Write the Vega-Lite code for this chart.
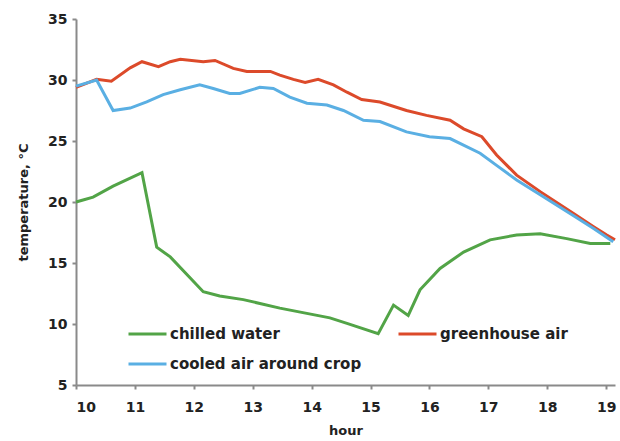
{
  "$schema": "https://vega.github.io/schema/vega-lite/v6.json",
  "width": 539,
  "height": 366,
  "autosize": {"type": "none"},
  "padding": {"left": 76, "top": 19, "right": 5, "bottom": 56},
  "background": "white",
  "data": {"values": [
    {"series": "greenhouse air", "hour": 10.0, "temp": 29.4},
    {"series": "greenhouse air", "hour": 10.35, "temp": 30.06},
    {"series": "greenhouse air", "hour": 10.6, "temp": 29.9},
    {"series": "greenhouse air", "hour": 10.92, "temp": 31.0},
    {"series": "greenhouse air", "hour": 11.12, "temp": 31.5},
    {"series": "greenhouse air", "hour": 11.4, "temp": 31.1},
    {"series": "greenhouse air", "hour": 11.6, "temp": 31.5},
    {"series": "greenhouse air", "hour": 11.77, "temp": 31.7},
    {"series": "greenhouse air", "hour": 12.16, "temp": 31.5},
    {"series": "greenhouse air", "hour": 12.36, "temp": 31.6},
    {"series": "greenhouse air", "hour": 12.67, "temp": 30.95},
    {"series": "greenhouse air", "hour": 12.9, "temp": 30.7},
    {"series": "greenhouse air", "hour": 13.3, "temp": 30.7},
    {"series": "greenhouse air", "hour": 13.46, "temp": 30.4},
    {"series": "greenhouse air", "hour": 13.69, "temp": 30.05},
    {"series": "greenhouse air", "hour": 13.89, "temp": 29.8},
    {"series": "greenhouse air", "hour": 14.11, "temp": 30.05},
    {"series": "greenhouse air", "hour": 14.37, "temp": 29.6},
    {"series": "greenhouse air", "hour": 14.6, "temp": 29.0},
    {"series": "greenhouse air", "hour": 14.85, "temp": 28.4},
    {"series": "greenhouse air", "hour": 15.16, "temp": 28.2},
    {"series": "greenhouse air", "hour": 15.61, "temp": 27.5},
    {"series": "greenhouse air", "hour": 15.95, "temp": 27.1},
    {"series": "greenhouse air", "hour": 16.35, "temp": 26.7},
    {"series": "greenhouse air", "hour": 16.58, "temp": 26.0},
    {"series": "greenhouse air", "hour": 16.89, "temp": 25.35},
    {"series": "greenhouse air", "hour": 17.14, "temp": 23.85},
    {"series": "greenhouse air", "hour": 17.48, "temp": 22.2},
    {"series": "greenhouse air", "hour": 17.88, "temp": 20.85},
    {"series": "greenhouse air", "hour": 18.44, "temp": 19.07},
    {"series": "greenhouse air", "hour": 18.78, "temp": 18.0},
    {"series": "greenhouse air", "hour": 19.01, "temp": 17.3},
    {"series": "greenhouse air", "hour": 19.15, "temp": 16.9},
    {"series": "cooled air around crop", "hour": 10.0, "temp": 29.5},
    {"series": "cooled air around crop", "hour": 10.35, "temp": 30.0},
    {"series": "cooled air around crop", "hour": 10.63, "temp": 27.5},
    {"series": "cooled air around crop", "hour": 10.92, "temp": 27.7},
    {"series": "cooled air around crop", "hour": 11.2, "temp": 28.2},
    {"series": "cooled air around crop", "hour": 11.48, "temp": 28.8},
    {"series": "cooled air around crop", "hour": 11.77, "temp": 29.2},
    {"series": "cooled air around crop", "hour": 12.1, "temp": 29.6},
    {"series": "cooled air around crop", "hour": 12.33, "temp": 29.3},
    {"series": "cooled air around crop", "hour": 12.61, "temp": 28.9},
    {"series": "cooled air around crop", "hour": 12.78, "temp": 28.9},
    {"series": "cooled air around crop", "hour": 13.12, "temp": 29.4},
    {"series": "cooled air around crop", "hour": 13.35, "temp": 29.3},
    {"series": "cooled air around crop", "hour": 13.63, "temp": 28.6},
    {"series": "cooled air around crop", "hour": 13.92, "temp": 28.1},
    {"series": "cooled air around crop", "hour": 14.26, "temp": 27.95},
    {"series": "cooled air around crop", "hour": 14.54, "temp": 27.5},
    {"series": "cooled air around crop", "hour": 14.88, "temp": 26.7},
    {"series": "cooled air around crop", "hour": 15.16, "temp": 26.6},
    {"series": "cooled air around crop", "hour": 15.61, "temp": 25.75},
    {"series": "cooled air around crop", "hour": 16.0, "temp": 25.35},
    {"series": "cooled air around crop", "hour": 16.35, "temp": 25.2},
    {"series": "cooled air around crop", "hour": 16.86, "temp": 24.0},
    {"series": "cooled air around crop", "hour": 17.14, "temp": 23.0},
    {"series": "cooled air around crop", "hour": 17.48, "temp": 21.8},
    {"series": "cooled air around crop", "hour": 17.88, "temp": 20.6},
    {"series": "cooled air around crop", "hour": 18.44, "temp": 18.9},
    {"series": "cooled air around crop", "hour": 18.78, "temp": 17.85},
    {"series": "cooled air around crop", "hour": 19.12, "temp": 16.75},
    {"series": "chilled water", "hour": 10.0, "temp": 20.0},
    {"series": "chilled water", "hour": 10.12, "temp": 20.16},
    {"series": "chilled water", "hour": 10.29, "temp": 20.4},
    {"series": "chilled water", "hour": 10.63, "temp": 21.3},
    {"series": "chilled water", "hour": 11.12, "temp": 22.4},
    {"series": "chilled water", "hour": 11.37, "temp": 16.3},
    {"series": "chilled water", "hour": 11.6, "temp": 15.5},
    {"series": "chilled water", "hour": 12.16, "temp": 12.65},
    {"series": "chilled water", "hour": 12.44, "temp": 12.3},
    {"series": "chilled water", "hour": 12.84, "temp": 12.0},
    {"series": "chilled water", "hour": 13.46, "temp": 11.3},
    {"series": "chilled water", "hour": 14.31, "temp": 10.5},
    {"series": "chilled water", "hour": 14.6, "temp": 10.05},
    {"series": "chilled water", "hour": 15.13, "temp": 9.2},
    {"series": "chilled water", "hour": 15.39, "temp": 11.55},
    {"series": "chilled water", "hour": 15.64, "temp": 10.7},
    {"series": "chilled water", "hour": 15.84, "temp": 12.8},
    {"series": "chilled water", "hour": 16.18, "temp": 14.55},
    {"series": "chilled water", "hour": 16.58, "temp": 15.9},
    {"series": "chilled water", "hour": 17.03, "temp": 16.9},
    {"series": "chilled water", "hour": 17.48, "temp": 17.3},
    {"series": "chilled water", "hour": 17.88, "temp": 17.4},
    {"series": "chilled water", "hour": 18.33, "temp": 17.0},
    {"series": "chilled water", "hour": 18.73, "temp": 16.6},
    {"series": "chilled water", "hour": 19.07, "temp": 16.6}
  ]},
  "mark": {"type": "line", "strokeWidth": 3, "interpolate": "linear"},
  "encoding": {
    "x": {
      "field": "hour", "type": "quantitative",
      "scale": {"domain": [10, 19.15], "nice": false, "zero": false},
      "axis": {"values": [10, 11, 12, 13, 14, 15, 16, 17, 18, 19], "title": "hour", "format": "d"}
    },
    "y": {
      "field": "temp", "type": "quantitative",
      "scale": {"domain": [5, 35], "nice": false, "zero": false},
      "axis": {"values": [5, 10, 15, 20, 25, 30, 35], "title": "temperature, °C", "format": "d"}
    },
    "color": {
      "field": "series", "type": "nominal",
      "scale": {
        "domain": ["chilled water", "cooled air around crop", "greenhouse air"],
        "range": ["#52a447", "#5aafe3", "#dc4a2a"]
      },
      "legend": {
        "title": null,
        "orient": "none",
        "legendX": 51,
        "legendY": 300,
        "columns": 2,
        "columnPadding": 35,
        "rowPadding": 0,
        "clipHeight": 30,
        "symbolType": "stroke",
        "symbolSize": 1444,
        "symbolStrokeWidth": 3,
        "labelOffset": 2,
        "labelLimit": 400,
        "labelFont": "DejaVu Sans",
        "labelFontWeight": "bold",
        "labelFontSize": 15,
        "labelColor": "#222222",
        "padding": 0
      }
    },
    "order": {"field": "series"}
  },
  "config": {
    "view": {"stroke": null},
    "axis": {
      "grid": false,
      "domainColor": "#8a8a8a",
      "domainWidth": 2,
      "tickColor": "#8a8a8a",
      "tickWidth": 2,
      "tickSize": 4,
      "labelFont": "DejaVu Sans",
      "labelFontWeight": "bold",
      "labelFontSize": 14,
      "labelColor": "#222222",
      "titleFont": "DejaVu Sans",
      "titleFontWeight": "bold",
      "titleFontSize": 13,
      "titleColor": "#222222"
    },
    "axisX": {"labelPadding": 11, "titlePadding": 10},
    "axisY": {"labelPadding": 5, "titlePadding": 17}
  }
}
